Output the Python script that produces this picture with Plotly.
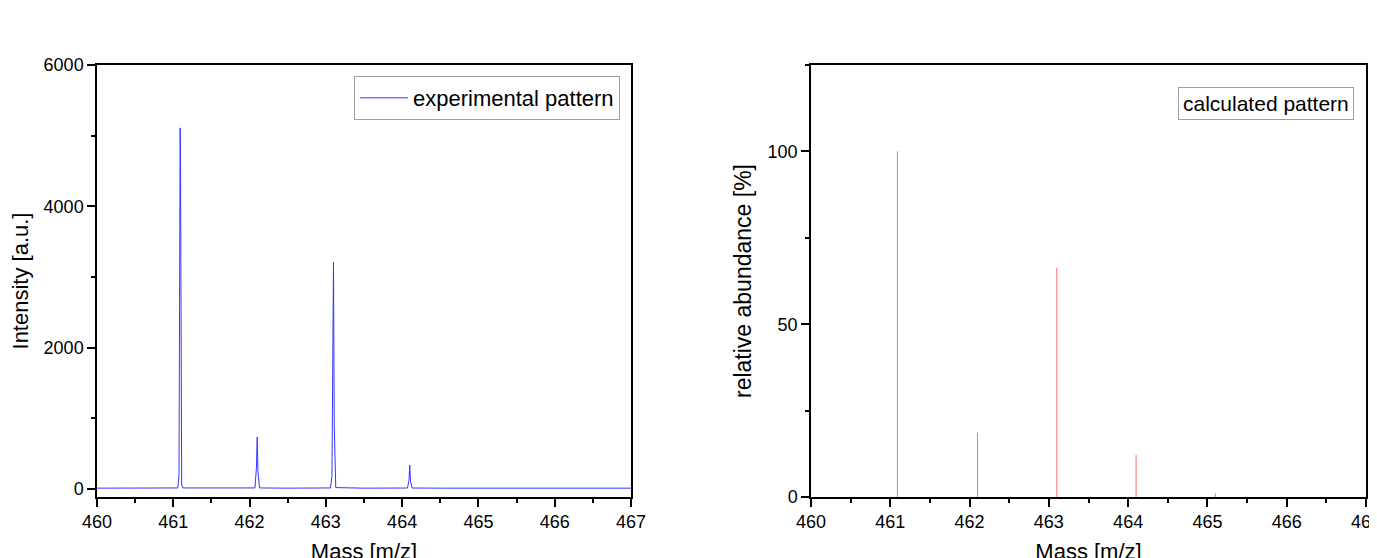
import plotly.graph_objects as go

# experimental isotope pattern (mass, intensity)
exp_mass = [460.00, 460.50, 461.00, 461.06, 461.075, 461.085, 461.09, 461.095, 461.10, 461.11, 461.125,
            461.50, 462.00, 462.07, 462.09, 462.10, 462.11, 462.13, 462.50, 463.00,
            463.06, 463.08, 463.09, 463.10, 463.11, 463.13, 463.50, 464.00,
            464.07, 464.09, 464.10, 464.11, 464.13, 464.50, 465.00, 465.50, 466.00, 466.50, 467.00]
exp_int = [12, 12, 12, 15, 200, 4700, 5110, 4650, 1200, 60, 15,
           14, 12, 15, 300, 735, 250, 15, 12, 12,
           15, 180, 2900, 3210, 900, 20, 12, 12,
           14, 120, 340, 110, 14, 12, 12, 12, 12, 12, 12]

# calculated isotope pattern (sticks)
calc_mass = [461.09, 462.10, 463.10, 464.10, 465.10]
calc_abund = [100, 18.6, 66.4, 12.2, 1.0]

FONT = "Liberation Sans, Arial, sans-serif"
W, H = 1377, 558
OFF = 8  # page body margin

fig = go.Figure()

fig.add_trace(go.Scatter(
    x=exp_mass, y=exp_int, mode="lines", name="experimental pattern",
    line=dict(color="#3535ff", width=1), xaxis="x", yaxis="y", showlegend=True,
))

stick_x, stick_y = [], []
for m, a in zip(calc_mass, calc_abund):
    stick_x += [m, m, None]
    stick_y += [0, a, None]

fig.add_trace(go.Scatter(
    x=stick_x, y=stick_y, mode="lines", name="calculated pattern",
    line=dict(color="#ff7070", width=1), xaxis="x2", yaxis="y2", showlegend=False,
))

axis_common = dict(
    showline=True, linecolor="black", linewidth=1.5, mirror=True,
    ticks="outside", ticklen=8, tickwidth=1.5, tickcolor="black",
    showgrid=False, zeroline=False, automargin=False,
    tickfont=dict(family=FONT, size=18, color="black"),
)
title_font = dict(family=FONT, size=22, color="black")


def px(x):
    return (x - OFF) / W


def py(y):
    return (H - (y - OFF)) / H


ydom = [py(497), py(65)]

fig.update_layout(
    width=W, height=H,
    margin=dict(l=0, r=0, t=0, b=0),
    paper_bgcolor="white", plot_bgcolor="white",
    font=dict(family=FONT, color="black"),
    xaxis=dict(domain=[px(97), px(631)], anchor="y", range=[460, 467], dtick=1,
               minor=dict(dtick=0.5, ticks="outside", ticklen=4, tickcolor="black"),
               title=dict(text="Mass [m/z]", font=title_font, standoff=12), **axis_common),
    yaxis=dict(domain=ydom, anchor="x", range=[-113, 6000], dtick=2000,
               minor=dict(dtick=1000, ticks="outside", ticklen=4, tickcolor="black"),
               title=dict(text="Intensity [a.u.]", font=title_font, standoff=10), **axis_common),
    xaxis2=dict(domain=[px(811), px(1366)], anchor="y2", range=[460, 467], dtick=1,
                minor=dict(dtick=0.5, ticks="outside", ticklen=4, tickcolor="black"),
                title=dict(text="Mass [m/z]", font=title_font, standoff=12), **axis_common),
    yaxis2=dict(domain=ydom, anchor="x2", range=[0, 125], dtick=50,
                minor=dict(dtick=25, ticks="outside", ticklen=4, tickcolor="black"),
                title=dict(text="relative abundance [%]", font=dict(family=FONT, size=23, color="black"),
                           standoff=10), **axis_common),
    legend=dict(x=px(354), y=py(76), xanchor="left", yanchor="top",
                bgcolor="white", bordercolor="#a0a0a0", borderwidth=1,
                font=dict(family=FONT, size=22, color="black"), itemwidth=48,
                tracegroupgap=0),
    annotations=[dict(
        text="calculated pattern", xref="paper", yref="paper",
        x=px(1266), y=py(103.5), xanchor="center", yanchor="middle",
        showarrow=False, font=dict(family=FONT, size=21, color="black"),
        bordercolor="#a0a0a0", borderwidth=1, borderpad=4, bgcolor="white",
    )],
)

fig.write_html("out.html")
